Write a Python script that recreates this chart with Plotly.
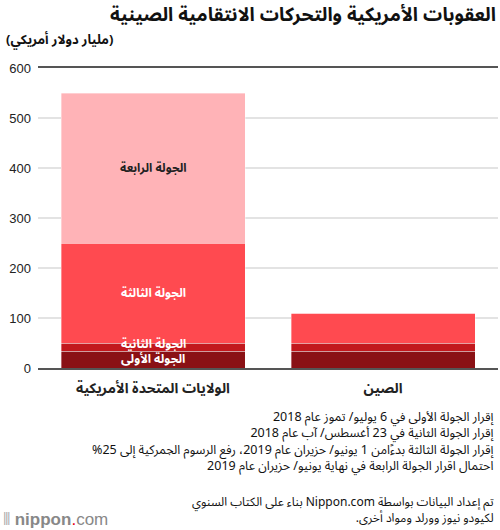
import plotly.graph_objects as go

# data (billion US$)
countries = ["الولايات المتحدة الأمريكية", "الصين"]
rounds = ["الجولة الأولى", "الجولة الثانية", "الجولة الثالثة", "الجولة الرابعة"]
round1 = [34, 34]
round2 = [16, 16]
round3 = [200, 60]
round4 = [300, 0]
colors = ["#8a1115", "#c2181d", "#ff4a50", "#ffb3b7"]
label_colors = ["white", "white", "white", "#222222"]
y_ticks = [0, 100, 200, 300, 400, 500, 600]

AR = "Noto Sans Arabic, DejaVu Sans, sans-serif"
LAT = "Liberation Sans, Arial, sans-serif"


def rtl(s):
    # force right-to-left embedding on every line
    return "<br>".join("\u202b" + line + "\u202c" for line in s.split("<br>"))


fig = go.Figure()
series = [round1, round2, round3, round4]
for name, vals, col in zip(rounds, series, colors):
    fig.add_trace(go.Bar(x=countries, y=vals, name=name,
                         marker=dict(color=col, line=dict(width=0.6, color="rgba(255,255,255,0.6)")),
                         hoverinfo="skip"))

# segment labels on US bar, placed at segment middle
base = 0
shifts = [0, 3, 0, 0]
for name, vals, tc, sh in zip(rounds, series, label_colors, shifts):
    mid = base + vals[0] / 2
    fig.add_annotation(x=countries[0], y=mid, yshift=sh, text=f"<b>{rtl(name)}</b>", showarrow=False,
                       font=dict(family=AR, size=12, color=tc))
    base += vals[0]

fig.update_layout(
    width=500, height=530,
    margin=dict(l=38, r=2, t=68, b=162),
    barmode="stack", bargap=0.2,
    showlegend=False,
    plot_bgcolor="white", paper_bgcolor="white",
    font=dict(family=LAT, size=13, color="#222222"),
)
fig.update_yaxes(range=[0, 600], tickvals=y_ticks, showgrid=True, gridcolor="#e3e3e3",
                 gridwidth=1.5, zeroline=False, ticks="", tickfont=dict(size=13, color="#222"),
                 ticklabelstandoff=6)
fig.update_xaxes(showline=True, linecolor="#555555", linewidth=1.5, mirror=True,
                 tickfont=dict(family=AR, size=14, color="#222"),
                 tickprefix="<b>", ticksuffix="</b>", ticks="", ticklabelstandoff=6)

# title and unit
fig.add_annotation(xref="paper", yref="paper", x=1, y=1, xanchor="right", yanchor="middle",
                   yshift=53, text="<b>" + rtl("العقوبات الأمريكية والتحركات الانتقامية الصينية") + "</b>",
                   showarrow=False, font=dict(family=AR, size=19, color="#111"))
fig.add_annotation(xref="paper", yref="paper", x=-0.075, y=1, xanchor="left", yanchor="bottom",
                   yshift=12, text="<b>" + rtl("(مليار دولار أمريكي)") + "</b>",
                   showarrow=False, font=dict(family=AR, size=13, color="#111"))

notes = ("إقرار الجولة الأولى في 6 يوليو/ تموز عام 2018<br>"
         "إقرار الجولة الثانية في 23 أغسطس/ آب عام 2018<br>"
         "إقرار الجولة الثالثة بدءًامن 1 يونيو/ حزيران عام 2019، رفع الرسوم الجمركية إلى 25%<br>"
         "احتمال اقرار الجولة الرابعة في نهاية يونيو/ حزيران عام 2019")
fig.add_annotation(xref="paper", yref="paper", x=0.996, y=0, xanchor="right", yanchor="top",
                   yshift=-34, text=rtl(notes), align="right", showarrow=False,
                   font=dict(family=AR, size=12.5, color="#111"))
source = ("تم إعداد البيانات بواسطة Nippon.com بناء على الكتاب السنوي<br>"
          "لكيودو نيوز وورلد ومواد أخرى.")
fig.add_annotation(xref="paper", yref="paper", x=0.996, y=0, xanchor="right", yanchor="top",
                   yshift=-120, text=rtl(source), align="right", showarrow=False,
                   font=dict(family=AR, size=12, color="#111"))
fig.add_annotation(xref="paper", yref="paper", x=-0.08, y=0, xanchor="left", yanchor="top",
                   yshift=-140,
                   text="<span style='color:#aaa'>⦀</span> <b>nippon</b><span style='color:#e60012'>.</span>com",
                   showarrow=False, font=dict(family=LAT, size=17, color="#888"))

fig.write_html("out.html", config={"displayModeBar": False},
               post_script="document.body.style.margin='0';")
